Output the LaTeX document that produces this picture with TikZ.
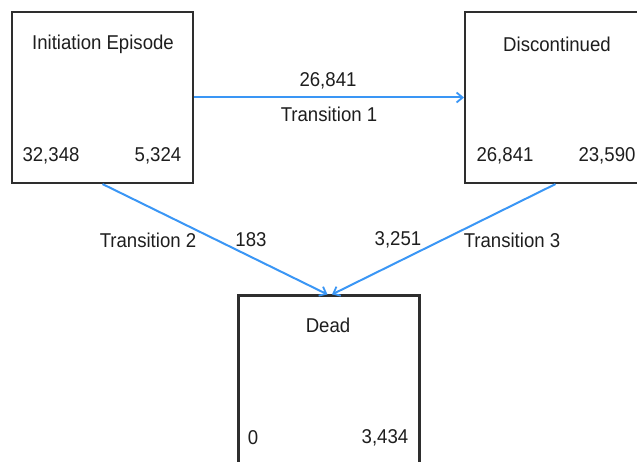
\documentclass[tikz,border=0pt]{standalone}
\usepackage{fontspec}
\setmainfont{Liberation Sans}[FakeStretch=0.93]
\usetikzlibrary{arrows.meta}
\definecolor{boxline}{HTML}{2E2E2E}
\definecolor{txt}{HTML}{1E1E1E}
\definecolor{arrowblue}{HTML}{3A96F5}
\begin{document}
\begin{tikzpicture}[x=1pt,y=-1pt,
  statebox/.style={draw=boxline,line width=2.1pt,minimum width=181pt,minimum height=171pt,inner sep=0pt},
  lbl/.style={text=txt,font=\fontsize{20}{22}\selectfont,inner sep=0pt,anchor=center},
  flow/.style={draw=arrowblue,line width=2pt,-{Straight Barb[length=6pt,width=10pt,line width=1.8pt]}}]
\useasboundingbox (0,0) rectangle (637,462);
\node[statebox] (init) at (102.5,97.5) {};
\node[statebox] (disc) at (555.5,97.5) {};
\node[statebox] (dead) at (329,381) {};
% box texts
\node[lbl] (initT) at (103,44) {Initiation Episode};
\node[lbl] (initA) at (51,156) {32,348};
\node[lbl] (initB) at (158,156) {5,324};
\node[lbl] (discT) at (557,44) {Discontinued};
\node[lbl] (discA) at (505,156) {26,841};
\node[lbl] (discB) at (607,156) {23,590};
\node[lbl] (deadT) at (328,325) {Dead};
\node[lbl] (deadA) at (253,438) {0};
\node[lbl] (deadB) at (385,438) {3,434};
% connectors
\draw[flow] (init.east) -- (disc.west);
\draw[flow] (init.south) -- ([xshift=-1.5pt]dead.north);
\draw[flow] (disc.south) -- ([xshift=3pt]dead.north);
% connector labels
\node[lbl] (t1n) at (328,81) {26,841};
\node[lbl] (t1) at (329,114) {Transition 1};
\node[lbl] (t2) at (148,240) {Transition 2};
\node[lbl] (t2n) at (251,240) {183};
\node[lbl] (t3n) at (398,240) {3,251};
\node[lbl] (t3) at (512,240) {Transition 3};
\end{tikzpicture}
\end{document}
